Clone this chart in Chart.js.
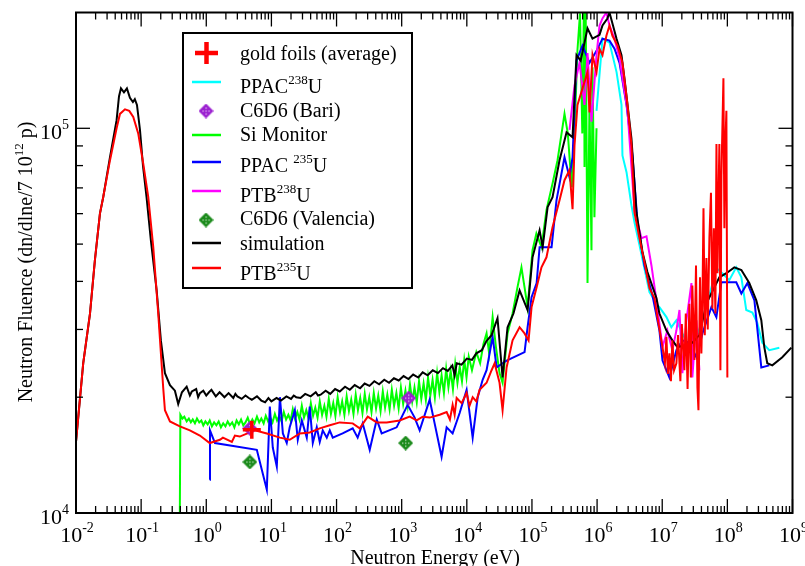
<!DOCTYPE html>
<html><head><meta charset="utf-8">
<script src="https://cdn.jsdelivr.net/npm/chart.js@4"></script>
<style>html,body{margin:0;padding:0;background:#fff}#wrap{width:805px;height:566px;position:relative}</style>
</head><body><div id="wrap"><canvas id="c"></canvas></div>
<script>
// tick label exponents
const xTickExps = [-2,-1,0,1,2,3,4,5,6,7,8,9];
const yTickExps = [4,5];

// [energy eV, fluence]
const simulation = [[0.01,1.53e4],[0.0129,2.45e4],[0.0164,3.3e4],[0.0195,4.54e4],[0.0233,6.0e4],[0.0262,6.63e4],[0.0332,8.4e4],[0.042,1.05e5],[0.0457,1.21e5],[0.049,1.27e5],[0.0545,1.24e5],[0.0605,1.27e5],[0.0673,1.2e5],[0.0748,1.17e5],[0.08,1.19e5],[0.0863,1.15e5],[0.096,9.9e4],[0.1067,8.0e4],[0.121,6.63e4],[0.141,5.12e4],[0.173,3.79e4],[0.201,2.81e4],[0.232,2.31e4],[0.277,2.15e4],[0.33,2.08e4],[0.371,1.92e4],[0.423,2.06e4],[0.5,2.13e4],[0.56,2.02e4],[0.6,2.07e4],[0.7,2.1e4],[0.75,2.0e4],[0.8,2.05e4],[0.9,2.08e4],[1.0,2.02e4],[1.1,2.06e4],[1.2,2.09e4],[1.4,2.01e4],[1.6,2.06e4],[1.75,2.03e4],[1.9,2.0e4],[2.2,2.05e4],[2.6,1.99e4],[2.8,2.04e4],[3.0,2.01e4],[3.5,1.98e4],[4.0,2.02e4],[4.5,1.99e4],[5,1.97e4],[6,2.01e4],[7,1.96e4],[8,1.94e4],[9,1.99e4],[10,1.95e4],[12,1.99e4],[14,1.96e4],[17,2.01e4],[20,1.98e4],[22,2.02e4],[24,2.0e4],[28,1.99e4],[33,2.04e4],[40,2.01e4],[48,2.06e4],[52,2.02e4],[57,2.03e4],[68,2.08e4],[80,2.04e4],[95,2.1e4],[112,2.07e4],[135,2.13e4],[160,2.09e4],[190,2.15e4],[230,2.11e4],[270,2.17e4],[320,2.14e4],[380,2.2e4],[450,2.16e4],[540,2.22e4],[640,2.18e4],[760,2.24e4],[900,2.21e4],[1070,2.27e4],[1270,2.23e4],[1500,2.29e4],[1800,2.25e4],[2100,2.32e4],[2500,2.28e4],[3000,2.35e4],[3600,2.31e4],[4300,2.38e4],[5100,2.34e4],[6000,2.42e4],[6500,2.28e4],[7000,2.45e4],[8300,2.43e4],[1e4,2.52e4],[1.2e4,2.5e4],[1.4e4,2.6e4],[1.7e4,2.65e4],[2e4,2.8e4],[2.4e4,2.9e4],[2.96e4,3.21e4],[3.54e4,2.25e4],[4.22e4,3.04e4],[5.2e4,3.3e4],[6.46e4,3.79e4],[8.57e4,3.37e4],[1.02e5,4.62e4],[1.31e5,5.43e4],[1.46e5,4.91e4],[1.74e5,6.24e4],[2.07e5,6.62e4],[2.65e5,8.26e4],[3.4e5,9.76e4],[4.2e5,9.48e4],[4.83e5,1.55e5],[5.6e5,1.5e5],[6.41e5,1.67e5],[7.13e5,1.82e5],[8.5e5,1.71e5],[1.09e6,1.75e5],[1.21e6,1.85e5],[1.44e6,1.93e5],[1.55e6,2.0e5],[1.99e6,1.71e5],[2.37e6,1.55e5],[2.63e6,1.35e5],[3.37e6,9.4e4],[4.02e6,6.05e4],[4.97e6,4.77e4],[5.93e6,4.23e4],[8.15e6,3.62e4],[9.06e6,3.3e4],[1.16e7,2.98e4],[1.43e7,2.81e4],[1.71e7,2.7e4],[2.35e7,2.73e4],[2.9e7,2.77e4],[3.72e7,2.9e4],[4.77e7,3.51e4],[7.54e7,4.1e4],[9.66e7,4.2e4],[1.28e8,4.35e4],[1.64e8,4.28e4],[2.17e8,3.96e4],[2.78e8,3.57e4],[3.32e8,3.17e4],[3.69e8,2.7e4],[4.1e8,2.45e4],[4.9e8,2.42e4],[6.97e8,2.54e4],[9.6e8,2.69e4]];

const ptb235 = [[0.01,1.53e4],[0.0129,2.45e4],[0.0164,3.3e4],[0.0195,4.54e4],[0.0233,6.0e4],[0.0262,6.63e4],[0.0332,8.25e4],[0.042,1.0e5],[0.0473,1.09e5],[0.0565,1.12e5],[0.0657,1.11e5],[0.0757,1.07e5],[0.0902,9.7e4],[0.1076,8.11e4],[0.1285,6.63e4],[0.1535,4.91e4],[0.183,3.3e4],[0.218,2.12e4],[0.232,1.85e4],[0.277,1.73e4],[0.394,1.68e4],[0.56,1.64e4],[0.797,1.59e4],[1.13,1.52e4],[1.62,1.55e4],[1.8,1.57e4],[2.47,1.53e4],[2.75,1.59e4],[3.27,1.58e4],[5.56,1.64e4],[8.5,1.61e4],[13.5,1.57e4],[19.1,1.55e4],[27.3,1.61e4],[38.8,1.62e4],[55.2,1.66e4],[78.7,1.69e4],[112,1.72e4],[177,1.71e4],[227,1.66e4],[301,1.78e4],[414,1.72e4],[589,1.72e4],[931,1.74e4],[1327,1.78e4],[1698,1.74e4],[2100,1.78e4],[2690,1.77e4],[3830,1.8e4],[4900,1.83e4],[5500,1.75e4],[6055,1.91e4],[6500,1.8e4],[6980,1.99e4],[8320,1.93e4],[9930,2.05e4],[1.1e4,1.9e4],[1.23e4,2.0e4],[1.4e4,1.95e4],[1.57e4,2.09e4],[2.01e4,2.18e4],[2.4e4,2.35e4],[2.67e4,2.45e4],[3.18e4,2.18e4],[3.54e4,1.85e4],[4.08e4,2.39e4],[5.04e4,2.81e4],[6.46e4,3.04e4],[7.7e4,2.93e4],[8.87e4,2.81e4],[9.86e4,3.43e4],[1.18e5,3.86e4],[1.4e5,4.35e4],[1.67e5,4.62e4],[2.07e5,5.53e4],[2.65e5,6.5e4],[3.16e5,7.33e4],[3.77e5,7.78e4],[4.2e5,6.16e4],[4.5e5,9.03e4],[5.0e5,1.15e5],[5.97e5,1.27e5],[7.13e5,1.4e5],[7.65e5,1.1e5],[8.5e5,1.55e5],[9.8e5,1.4e5],[1.09e6,1.61e5],[1.21e6,1.55e5],[1.39e6,1.74e5],[1.55e6,1.85e5],[1.72e6,1.74e5],[2.06e6,1.64e5],[2.45e6,1.48e5],[2.93e6,1.15e5],[3.37e6,9.03e4],[3.75e6,6.05e4],[4.47e6,5.18e4],[5.33e6,4.49e4],[6.37e6,3.84e4],[7.59e6,3.62e4],[8.43e6,3.23e4],[1.01e7,2.7e4],[1.1e7,2.45e4],[1.16e7,2.87e4],[1.22e7,2.3e4],[1.29e7,2.6e4],[1.36e7,2.2e4],[1.43e7,2.81e4],[1.52e7,2.35e4],[1.65e7,2.45e4],[1.75e7,2.9e4],[1.9e7,2.2e4],[2.0e7,3.1e4],[2.19e7,2.35e4],[2.3e7,3.3e4],[2.45e7,2.1e4],[2.61e7,3.5e4],[2.75e7,2.25e4],[2.9e7,3.9e4],[3.12e7,2.5e4],[3.3e7,4.4e4],[3.47e7,2.12e4],[3.6e7,1.85e4],[3.8e7,4.1e4],[3.99e7,2.6e4],[4.14e7,3.5e4],[4.3e7,6.2e4],[4.5e7,2.9e4],[4.77e7,4.6e4],[5.0e7,3.0e4],[5.3e7,5.2e4],[5.6e7,6.8e4],[5.89e7,3.4e4],[6.2e7,5.5e4],[6.55e7,3.3e4],[6.8e7,9.1e4],[7.03e7,4.2e4],[7.3e7,6.5e4],[7.54e7,9.1e4],[7.82e7,2.35e4],[8.1e7,7.5e4],[8.7e7,1.35e5],[9.0e7,5.5e4],[9.3e7,9.0e4],[9.66e7,1.11e5],[1.0e8,2.25e4]];

const siMonitor = [[0.39,8e3],[0.4,1.8e4],[0.43,1.76e4],[0.46,1.78e4],[0.5,1.73e4],[0.54,1.76e4],[0.58,1.72e4],[0.62,1.75e4],[0.67,1.71e4],[0.72,1.76e4],[0.78,1.72e4],[0.84,1.74e4],[0.9,1.69e4],[0.97,1.73e4],[1.05,1.7e4],[1.13,1.74e4],[1.22,1.68e4],[1.32,1.72e4],[1.43,1.69e4],[1.55,1.73e4],[1.68,1.67e4],[1.82,1.71e4],[1.97,1.68e4],[2.13,1.73e4],[2.3,1.69e4],[2.5,1.72e4],[2.7,1.67e4],[2.92,1.74e4],[3.16,1.7e4],[3.42,1.75e4],[3.7,1.69e4],[4.0,1.72e4],[4.33,1.77e4],[4.7,1.7e4],[5.1,1.75e4],[5.5,1.71e4],[6.0,1.78e4],[6.5,1.72e4],[7.0,1.76e4],[7.6,1.71e4],[8.2,1.79e4],[8.9,1.73e4],[9.6,1.77e4],[10.4,1.72e4],[11.3,1.81e4],[12.2,1.74e4],[13.2,1.79e4],[14.3,1.73e4],[15.5,1.83e4],[16.8,1.75e4],[18.2,1.8e4],[19.7,1.74e4],[21.3,1.86e4],[23,1.76e4],[25,1.83e4],[27,1.75e4],[29.3,1.9e4],[31.7,1.77e4],[34.3,1.85e4],[37.2,1.76e4],[40.3,1.93e4],[43.6,1.79e4],[47.2,1.88e4],[51.1,1.77e4],[55.3,1.95e4],[60,1.8e4],[65,1.9e4],[70,1.78e4],[76,1.98e4],[82,1.81e4],[89,1.93e4],[96,1.79e4],[104,2.0e4],[113,1.83e4],[122,1.95e4],[132,1.8e4],[143,2.01e4],[155,1.84e4],[168,1.97e4],[182,1.81e4],[197,2.03e4],[213,1.85e4],[231,1.99e4],[250,1.82e4],[271,2.04e4],[293,1.86e4],[318,2.0e4],[344,1.83e4],[373,2.05e4],[404,1.87e4],[437,2.02e4],[474,1.84e4],[513,2.07e4],[556,1.88e4],[602,2.03e4],[652,1.86e4],[706,2.09e4],[765,1.9e4],[829,2.05e4],[898,1.87e4],[973,2.12e4],[1054,1.92e4],[1142,2.08e4],[1237,1.9e4],[1340,2.16e4],[1452,1.95e4],[1573,2.12e4],[1704,1.94e4],[1846,2.2e4],[2000,1.98e4],[2170,2.17e4],[2350,1.97e4],[2540,2.25e4],[2750,2.02e4],[2980,2.22e4],[3230,2.0e4],[3500,2.31e4],[3790,2.06e4],[4100,2.28e4],[4450,2.05e4],[4820,2.37e4],[5220,2.12e4],[5650,2.34e4],[6120,2.1e4],[6630,2.44e4],[7180,2.18e4],[7780,2.4e4],[8430,2.2e4],[9130,2.5e4],[9890,2.25e4],[1.07e4,2.55e4],[1.2e4,2.35e4],[1.4e4,2.62e4],[1.6e4,2.45e4],[1.8e4,2.75e4],[2.01e4,2.93e4],[2.2e4,2.6e4],[2.49e4,3.23e4],[2.8e4,2.7e4],[3.18e4,2.31e4],[3.54e4,2.18e4],[4.22e4,2.93e4],[5.04e4,3.3e4],[5.99e4,3.86e4],[6.9e4,4.35e4],[7.7e4,3.86e4],[8.57e4,3.43e4],[1.02e5,4.82e4],[1.17e5,5.33e4],[1.4e5,4.91e4],[1.67e5,6.13e4],[2.07e5,7.19e4],[2.47e5,8.26e4],[2.85e5,9.7e4],[3.16e5,1.09e5],[3.55e5,9.7e4],[4.08e5,7.03e4],[4.5e5,9.7e4],[5.0e5,1.6e5],[5.47e5,1.99e5],[5.93e5,9.7e4],[6.3e5,2.2e5],[6.41e5,7.93e4],[6.66e5,2.2e5],[7.13e5,3.96e4],[7.65e5,1.18e5],[8.2e5,4.82e4],[8.5e5,1.44e5],[9.1e5,5.87e4],[9.8e5,1.0e5]];

const ppac235 = [[1.13,1.22e4],[1.14,1.64e4],[1.36,1.52e4],[5.97,1.46e4],[8.5,1.15e4],[9.45,1.89e4],[10.5,1.48e4],[12.1,1.32e4],[13.5,2.0e4],[15.0,1.61e4],[17.2,1.52e4],[19.1,1.67e4],[22.9,1.85e4],[25.4,1.55e4],[29.3,1.74e4],[34.9,1.57e4],[38.8,1.89e4],[43.2,1.52e4],[49.7,1.67e4],[55.2,1.53e4],[61.4,1.64e4],[70.8,1.57e4],[78.7,1.64e4],[87.5,1.57e4],[124,1.61e4],[177,1.66e4],[211,1.57e4],[252,1.71e4],[323,1.46e4],[414,1.75e4],[493,1.61e4],[837,1.67e4],[1235,1.91e4],[1582,1.77e4],[1888,1.64e4],[2690,1.97e4],[3205,1.71e4],[4100,1.4e4],[4900,1.67e4],[6055,1.61e4],[7760,1.82e4],[9930,2.09e4],[1.23e4,1.57e4],[1.47e4,2.0e4],[1.75e4,2.22e4],[2.01e4,2.35e4],[2.49e4,2.87e4],[2.87e4,2.39e4],[3.54e4,2.45e4],[4.08e4,2.49e4],[7.7e4,2.62e4],[8.57e4,3.04e4],[9.86e4,3.64e4],[1.18e5,3.96e4],[1.31e5,4.91e4],[2.0e5,4.91e4],[2.38e5,6.5e4],[3.16e5,8.41e4],[3.77e5,7.46e4],[4.2e5,8.41e4],[4.83e5,1.5e5],[5.97e5,1.64e5],[7.65e5,1.48e5],[9.8e5,1.59e5],[1.21e6,1.71e5],[1.55e6,1.69e5],[1.85e6,1.61e5],[2.21e6,1.48e5],[2.83e6,1.15e5],[3.49e6,8.5e4],[4.17e6,5.7e4],[5.33e6,4.4e4],[7.08e6,3.68e4],[9.06e6,2.98e4],[1.01e7,2.49e4],[1.29e7,2.25e4],[1.65e7,2.65e4],[2.04e7,2.81e4],[2.61e7,2.77e4],[3.35e7,2.54e4],[4.14e7,2.93e4],[5.69e7,3.43e4],[6.78e7,3.23e4],[8.1e7,3.98e4],[1.37e8,3.98e4],[1.64e8,3.72e4],[2.03e8,3.96e4],[2.6e8,3.57e4],[3.32e8,2.39e4],[4.4e8,2.42e4]];

const ppac238 = [[9.8e5,1.11e5],[1.21e6,1.71e5],[1.55e6,1.67e5],[1.99e6,1.4e5],[2.37e6,1.15e5],[2.45e6,8.5e4],[2.83e6,7.69e4],[3.37e6,6.31e4],[3.75e6,5.7e4],[4.47e6,4.97e4],[6.37e6,3.75e4],[8.43e6,3.47e4],[9.06e6,3.43e4],[1.16e7,3.23e4],[1.38e7,3.04e4],[1.65e7,3.17e4],[2.04e7,2.93e4],[2.61e7,2.7e4],[3.35e7,2.85e4],[4.77e7,3.43e4],[6.78e7,4.33e4],[8.37e7,4.2e4],[1.07e8,4.03e4],[1.37e8,4.35e4],[1.64e8,4.1e4],[1.95e8,3.37e4],[2.42e8,3.32e4],[2.88e8,3.12e4],[3.44e8,2.77e4],[4.4e8,2.65e4],[6.28e8,2.69e4]];

const ptb238 = [[3.77e5,9.9e4],[4.5e5,1.29e5],[5.37e5,1.48e5],[6.41e5,1.15e5],[7.13e5,1.57e5],[8.2e5,1.04e5],[9.8e5,1.55e5],[1.09e6,1.85e5],[1.21e6,1.93e5],[1.39e6,2.0e5],[1.55e6,1.85e5],[1.85e6,1.71e5],[2.21e6,1.52e5],[2.93e6,1.11e5],[3.75e6,6.13e4],[4.8e6,5.18e4],[5.73e6,5.24e4],[6.83e6,4.4e4],[8.15e6,3.57e4],[1.01e7,2.7e4],[1.2e7,2.98e4],[1.43e7,2.65e4],[1.65e7,2.98e4],[1.84e7,3.37e4],[2.04e7,2.31e4],[2.35e7,3.17e4],[2.81e7,3.96e4],[2.9e7,2.25e4],[3.35e7,3.17e4],[3.72e7,2.35e4]];

const c6d6Bari = [[4.67,1.66e4],[1280,1.99e4]];
const c6d6Valencia = [[4.67,1.357e4],[1150,1.52e4]];
const goldFoils = [[5.0,1.645e4]];

const FONT = '"Liberation Serif","Times New Roman",serif';
const pts = a => a.map(p => ({x:p[0], y:p[1]}));

function diamondImg(color){
  const c = document.createElement('canvas'); c.width = 15; c.height = 15;
  const g = c.getContext('2d');
  g.fillStyle = color; g.beginPath();
  g.moveTo(7.5,0); g.lineTo(15,7.5); g.lineTo(7.5,15); g.lineTo(0,7.5); g.closePath(); g.fill();
  g.fillStyle = 'rgba(255,255,255,0.85)';
  [[7,4],[4,7],[10,7],[7,10],[7,7]].forEach(([x,y]) => g.fillRect(x,y,1.2,1.2));
  return c;
}
const bariImg = diamondImg('#9b1fd0');
const valImg = diamondImg('#1a8a1a');

function lineDs(label, data, color, order){
  return {type:'line', label, data:pts(data), borderColor:color, backgroundColor:color,
    borderWidth:2, pointRadius:0, tension:0, fill:false, order};
}

function drawSup(ctx, parts, x, y, size, align){
  const supSize = Math.round(size*0.65);
  let w = 0;
  parts.forEach(([t,s]) => { ctx.font = (s?supSize:size)+'px '+FONT; w += ctx.measureText(t).width; });
  let cx = align==='center' ? x - w/2 : (align==='right' ? x - w : x);
  ctx.textAlign = 'left'; ctx.textBaseline = 'alphabetic';
  parts.forEach(([t,s]) => {
    ctx.font = (s?supSize:size)+'px '+FONT;
    ctx.fillText(t, cx, s ? y - size*0.45 : y);
    cx += ctx.measureText(t).width;
  });
  return w;
}

const frame = {
  id:'frame',
  afterDraw(chart){
    const {ctx, chartArea:a, scales:{x, y}} = chart;
    ctx.save();
    ctx.fillStyle = '#000'; ctx.strokeStyle = '#000';
    ctx.lineWidth = 1.3;
    const seg = (x1,y1,x2,y2) => { ctx.beginPath(); ctx.moveTo(x1,y1); ctx.lineTo(x2,y2); ctx.stroke(); };
    for (let d = -2; d <= 9; d++){
      for (let k = 1; k <= 9; k++){
        if (d === 9 && k > 1) break;
        const px = x.getPixelForValue(k*Math.pow(10,d));
        const len = k === 1 ? 14 : 7;
        seg(px, a.bottom, px, a.bottom - len);
        seg(px, a.top, px, a.top + len);
      }
    }
    for (let d = 4; d <= 5; d++){
      for (let k = 1; k <= 9; k++){
        const v = k*Math.pow(10,d);
        if (v >= 2e5) break;
        const py = y.getPixelForValue(v);
        const len = k === 1 ? 14 : 7;
        seg(a.left, py, a.left + len, py);
        seg(a.right, py, a.right - len, py);
      }
    }
    ctx.lineWidth = 2;
    ctx.strokeRect(a.left, a.top, a.right - a.left, a.bottom - a.top);
    xTickExps.forEach(e => {
      const px = x.getPixelForValue(Math.pow(10,e));
      drawSup(ctx, [['10',false],[e<0?'-'+(-e):String(e),true]], px+1, 542, 22, 'center');
    });
    yTickExps.forEach(e => {
      const py = y.getPixelForValue(Math.pow(10,e));
      drawSup(ctx, [['10',false],[String(e),true]], 69, py + 11, 22, 'right');
    });
    ctx.font = '20px '+FONT; ctx.textAlign = 'center';
    ctx.fillText('Neutron Energy (eV)', 435, 564);
    ctx.save();
    ctx.translate(32, 262); ctx.rotate(-Math.PI/2);
    drawSup(ctx, [['Neutron Fluence (dn/dlne/7 10',false],['12',true],[' p)',false]], 0, 0, 20, 'center');
    ctx.restore();
    // legend
    ctx.fillStyle = '#fff';
    ctx.fillRect(183, 33, 229, 255);
    ctx.lineWidth = 2; ctx.strokeStyle = '#000';
    ctx.strokeRect(183, 33, 229, 255);
    const rows = [
      {parts:[['gold foils (average)',false]], base:60, sym:'cross', sy:53, color:'#ff0000'},
      {parts:[['PPAC',false],['238',true],['U',false]], base:93, sym:'line', sy:82, color:'#00ffff'},
      {parts:[['C6D6 (Bari)',false]], base:117, sym:'img', img:bariImg, sy:111},
      {parts:[['Si Monitor',false]], base:141, sym:'line', sy:135, color:'#00ff00'},
      {parts:[['PPAC ',false],['235',true],['U',false]], base:172, sym:'line', sy:162, color:'#0000ff'},
      {parts:[['PTB',false],['238',true],['U',false]], base:202, sym:'line', sy:191, color:'#ff00ff'},
      {parts:[['C6D6 (Valencia)',false]], base:225, sym:'img', img:valImg, sy:220},
      {parts:[['simulation',false]], base:250, sym:'line', sy:243, color:'#000000'},
      {parts:[['PTB',false],['235',true],['U',false]], base:280, sym:'line', sy:268, color:'#ff0000'}
    ];
    rows.forEach(r => {
      if (r.sym === 'line'){
        ctx.strokeStyle = r.color; ctx.lineWidth = 2.5; seg(192, r.sy, 221, r.sy);
      } else if (r.sym === 'cross'){
        ctx.strokeStyle = r.color; ctx.lineWidth = 4.5;
        seg(195, r.sy, 218, r.sy); seg(206.5, r.sy-11, 206.5, r.sy+11);
      } else {
        ctx.drawImage(r.img, 206-7.5, r.sy-7.5);
      }
      ctx.fillStyle = '#000';
      drawSup(ctx, r.parts, 240, r.base, 20, 'left');
    });
    ctx.restore();
  }
};

const el = document.getElementById('c');
new Chart(el, {
  data:{datasets:[
    {type:'scatter', label:'gold foils (average)', data:pts(goldFoils), pointStyle:'cross', pointRadius:9, borderColor:'#ff0000', borderWidth:3.5, order:0},
    {type:'scatter', label:'C6D6 (Bari)', data:pts(c6d6Bari), pointStyle:bariImg, order:1},
    {type:'scatter', label:'C6D6 (Valencia)', data:pts(c6d6Valencia), pointStyle:valImg, order:2},
    lineDs('PTB 235U', ptb235, '#ff0000', 3),
    lineDs('simulation', simulation, '#000000', 4),
    lineDs('PTB 238U', ptb238, '#ff00ff', 5),
    lineDs('PPAC 235U', ppac235, '#0000ff', 6),
    lineDs('Si Monitor', siMonitor, '#00ff00', 7),
    lineDs('PPAC 238U', ppac238, '#00ffff', 8)
  ]},
  options:{
    responsive:true, maintainAspectRatio:false, animation:false, devicePixelRatio:1,
    layout:{padding:{left:76, right:12, top:12, bottom:53}},
    plugins:{legend:{display:false}, tooltip:{enabled:false}},
    scales:{
      x:{type:'logarithmic', min:0.01, max:1e9, display:false},
      y:{type:'logarithmic', min:1e4, max:2e5, display:false}
    }
  },
  plugins:[frame]
});
</script></body></html>
